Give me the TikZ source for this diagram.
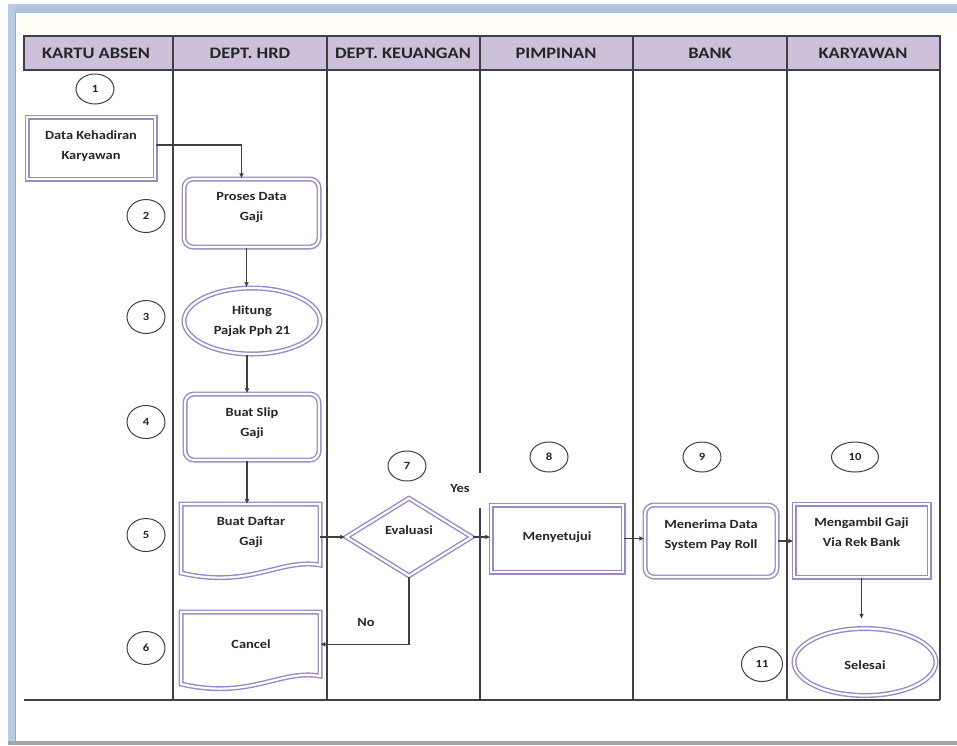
\documentclass[tikz,border=0pt]{standalone}
\usepackage{fontspec}
\setmainfont{Carlito}[FakeStretch=1.15]
\usetikzlibrary{shapes.geometric,arrows.meta}
\definecolor{hdr}{HTML}{CCC0DA}
\definecolor{pur}{HTML}{9A88C8}
\definecolor{ln}{HTML}{404040}
\definecolor{txt}{HTML}{262626}
\definecolor{winbar}{HTML}{A9BBD1}
\definecolor{winside}{HTML}{B9CCE4}
\begin{document}
\begin{tikzpicture}[x=1pt,y=-1pt,
  lane/.style={draw=ln, line width=1.5pt},
  dbl/.style={draw=pur, double=white, double distance=2.2pt, line width=1.4pt},
  hd/.style={font=\bfseries\fontsize{16}{18}\selectfont, text=txt},
  lbl/.style={font=\bfseries\fontsize{12.5}{19.5}\selectfont, text=txt, align=center, inner sep=0pt},
  num/.style={ellipse, draw=ln, line width=1pt, minimum width=38pt, minimum height=30pt,
              inner sep=0pt, font=\bfseries\fontsize{11}{13}\selectfont, text=txt},
  box/.style={rectangle, minimum width=#1, inner sep=0pt},
  arr/.style={draw=ln, line width=1.1pt, -{Latex[length=5pt,width=5pt]}}]
\useasboundingbox (0,0) rectangle (957,745);

% window frame
\fill[white] (0,0) rectangle (957,745);
\shade[top color=winbar!80!white, bottom color=winbar] (8,4) rectangle (957,13);
\fill[winside] (8,4) rectangle (15,745);
\draw[gray!70, line width=0.8pt] (15.5,13) -- (15.5,741);
\fill[gray!70] (8,741) rectangle (957,745);
\fill[yellow!4] (16,13) rectangle (957,30);

% swimlanes
\draw[lane, fill=hdr] (24,36) rectangle (940,70);
\foreach \x in {173,327,633,787,940} \draw[lane] (\x,36) -- (\x,700);
\draw[lane] (480,36) -- (480,473);
\draw[lane] (480,508) -- (480,700);
\draw[lane] (24,700) -- (940,700);
\node[hd] (h1) at (96,53) {KARTU ABSEN};
\node[hd] (h2) at (250,53) {DEPT. HRD};
\node[hd] (h3) at (403,53) {DEPT. KEUANGAN};
\node[hd] (h4) at (556,53) {PIMPINAN};
\node[hd] (h5) at (710,53) {BANK};
\node[hd] (h6) at (863,53) {KARYAWAN};

% step numbers
\node[num] (n1) at (95,89) {1};
\node[num, minimum height=33pt] (n2) at (146,216) {2};
\node[num, minimum height=33pt] (n3) at (146,317) {3};
\node[num, minimum height=33pt] (n4) at (146,422) {4};
\node[num, minimum height=33pt] (n5) at (146,535) {5};
\node[num, minimum height=33pt] (n6) at (146,648) {6};
\node[num] (n7) at (407,466) {7};
\node[num] (n8) at (549,457) {8};
\node[num] (n9) at (702,457) {9};
\node[num, minimum width=47pt] (n10) at (855,457) {10};
\node[num, minimum width=41pt, minimum height=35pt] (n11) at (762,664) {11};

% process shapes
\node[box=128pt, minimum height=62pt, dbl] (dk) at (91,148) {};
\node[lbl] (dkt) at (91,146) {Data Kehadiran\\Karyawan};

\node[box=135pt, minimum height=68pt, dbl, rounded corners=9pt] (pr) at (251.5,213) {};
\node[lbl] (prt) at (251.5,207.5) {Proses Data\\Gaji};

\node[ellipse, minimum width=136pt, minimum height=66pt, inner sep=0pt, dbl] (hp) at (252,321) {};
\node[lbl] (hpt) at (252,321) {Hitung\\Pajak Pph 21};

\node[box=134pt, minimum height=66pt, dbl, rounded corners=9pt] (bs) at (252,427) {};
\node[lbl] (bst) at (252,423) {Buat Slip\\Gaji};

% document shapes
\node[box=139pt, minimum height=61pt, anchor=north west] (bd) at (181,504) {};
\draw[dbl] (181,504) -- (320,504) -- (320,565)
  .. controls (280,558) and (250,589) .. (181,573) -- cycle;
\node[lbl] (bdt) at (251,532) {Buat Daftar\\Gaji};

\node[box=139pt, minimum height=64pt, anchor=north west] (cn) at (181,612) {};
\draw[dbl] (181,612) -- (320,612) -- (320,676)
  .. controls (280,669) and (250,700) .. (181,684) -- cycle;
\node[lbl] (cnt) at (251,644) {Cancel};

% decision
\node[diamond, minimum width=126pt, minimum height=78pt, inner sep=0pt, dbl] (ev) at (409,537) {};
\node[lbl] (evt) at (409,530) {Evaluasi};

\node[box=132pt, minimum height=67pt, dbl] (mn) at (557,538.5) {};
\node[lbl] (mnt) at (557,537) {Menyetujui};

\node[box=132pt, minimum height=72pt, dbl, rounded corners=9pt] (mr) at (711,541) {};
\node[lbl] (mrt) at (711,535) {Menerima Data\\System Pay Roll};

\node[box=135pt, minimum height=73pt, dbl] (mg) at (861.5,540.5) {};
\node[lbl] (mgt) at (861.5,532) {Mengambil Gaji\\Via Rek Bank};

\node[ellipse, minimum width=142pt, minimum height=67pt, inner sep=0pt, dbl] (sl) at (865,662) {};
\node[lbl] (slt) at (865,665) {Selesai};

% labels
\node[lbl] (yes) at (460,488) {Yes};
\node[lbl] (no) at (366,622) {No};

% connectors
\draw[arr] ([yshift=3pt]dk.east) -| ([xshift=-10pt]pr.north);
\draw[arr] ([xshift=-5pt]pr.south) -- ([xshift=-5pt]pr.south |- hp.north);
\draw[arr] ([xshift=-5pt]hp.south) -- ([xshift=-5pt]hp.south |- bs.north);
\draw[arr] ([xshift=-5pt]bs.south) -- ([xshift=-5pt]bs.south |- bd.north);
\draw[arr] (bd.east |- ev.west) -- (ev.west);
\draw[arr] (ev.east) -- (ev.east -| mn.west);
\draw[arr] (ev.south) |- (cn.east);
\draw[arr] (mn.east) -- (mn.east -| mr.west);
\draw[arr] (mr.east) -- (mr.east -| mg.west);
\draw[arr, shorten >=9pt] (mg.south) -- (mg.south |- sl.north);
\end{tikzpicture}
\end{document}
